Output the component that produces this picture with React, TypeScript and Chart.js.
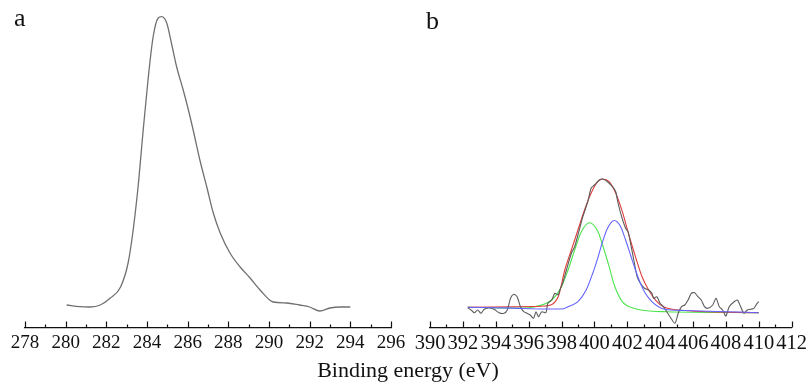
import React, { useEffect, useRef } from "react";
import { Chart, registerables } from "chart.js";

Chart.register(...registerables);

// ---- Panel a: C 1s spectrum ----
const c1sEnergy = [280.05, 280.7, 281.2, 281.7, 282.2, 282.7, 283.07, 283.3, 283.56, 283.8, 284.05, 284.3, 284.55, 284.72, 284.97, 285.2, 285.46, 285.78, 286.0, 286.27, 286.6, 286.94, 287.26, 287.6, 288.08, 288.58, 289.07, 289.56, 290.2, 290.87, 291.5, 292.0, 292.5, 293.0, 293.5, 294.0];
const c1sIntensity = [22.5, 20.8, 20.5, 22.5, 29.5, 40.5, 64.5, 94.5, 140.5, 194.5, 247.5, 290.5, 309.5, 310.8, 304.5, 284.5, 260.5, 237.5, 220.5, 197.5, 167.5, 140.5, 114.5, 94.5, 74.5, 60.5, 49.5, 37.5, 25.5, 24.5, 22.5, 20.5, 16.5, 19.5, 20.5, 20.5];

// ---- Panel b: N 1s spectrum (raw) ----
const n1sEnergy = [392.3, 392.5, 392.7, 392.9, 393.1, 393.3, 393.6, 393.9, 394.2, 394.5, 394.7, 394.9, 395.1, 395.3, 395.5, 395.7, 395.9, 396.1, 396.3, 396.45, 396.6, 396.8, 397.05, 397.17, 397.4, 397.6, 397.8, 397.9, 398.1, 398.3, 398.6, 398.8, 399.0, 399.3, 399.6, 399.8, 400.0, 400.3, 400.5, 400.8, 401.1, 401.3, 401.4, 401.6, 401.9, 402.05, 402.2, 402.4, 402.6, 402.8, 403.05, 403.3, 403.5, 403.6, 403.8, 404.0, 404.2, 404.6, 404.9, 405.1, 405.3, 405.5, 405.7, 405.9, 406.1, 406.3, 406.5, 406.7, 406.9, 407.2, 407.4, 407.6, 407.8, 408.0, 408.2, 408.5, 408.7, 408.9, 409.1, 409.3, 409.5, 409.7, 409.9, 410.0];
const n1sIntensity = [19.8, 17.5, 14.8, 17.5, 14.2, 18.2, 19.8, 18.2, 14.8, 14.2, 17.5, 29.2, 33.2, 30.8, 20.8, 15.8, 14.2, 12.5, 9.2, 15.8, 10.8, 15.8, 14.8, 24.2, 27.5, 34.2, 32.5, 37.5, 46, 57.5, 74.2, 80.8, 92.5, 110.8, 125.8, 139.2, 142.5, 147.5, 148.5, 145.8, 140.8, 135.8, 127.5, 114.2, 99.2, 95.8, 84.2, 67.5, 50.8, 44.2, 39.2, 37.5, 34.2, 29.2, 30.8, 24.2, 20.8, 10.8, 4.2, 14.2, 20.8, 22.5, 27.5, 34.2, 34.8, 30.8, 27.5, 20.8, 19.2, 22.5, 29.2, 20.8, 17.5, 11.5, 20.8, 25.8, 27.5, 20.8, 14.2, 17.5, 18.2, 19.2, 24.2, 25.8];

// ---- Panel b: fitted components ----
const fitBlueEnergy = [392.3, 395.0, 397.0, 398.0, 398.4, 399.0, 399.5, 399.9, 400.2, 400.5, 400.8, 401.2, 401.6, 401.9, 402.2, 402.5, 402.8, 403.1, 403.5, 403.9, 404.3, 405.5, 407.5, 410.0];
const fitBlueIntensity = [20.2, 19.4, 18.5, 18.5, 20.8, 25.8, 37.5, 54.2, 69.2, 85.8, 99.2, 107, 100.8, 87.5, 72.5, 57.5, 44.2, 34.2, 25.8, 20.8, 18.2, 17, 16, 14.8];

const fitGreenEnergy = [392.3, 395.5, 396.4, 397.4, 398.0, 398.4, 398.8, 399.2, 399.7, 400.2, 400.5, 400.9, 401.2, 401.7, 402.4, 403.4, 404.4, 410.0];
const fitGreenIntensity = [20.2, 19.5, 20.8, 27.5, 40.8, 57.5, 77.5, 95.5, 104.8, 96.5, 82.5, 60.8, 43, 25.8, 19.2, 16.5, 15.8, 14.8];

const fitRedEnergy = [392.3, 396.4, 397.0, 397.8, 398.2, 398.6, 399.0, 399.4, 399.8, 400.2, 400.5, 400.9, 401.3, 401.7, 402.1, 402.5, 402.9, 403.3, 403.8, 404.2, 405.5, 410.0];
const fitRedIntensity = [20.2, 21, 21.5, 30.8, 57.5, 77.5, 97.5, 117.5, 134.2, 145.8, 148.5, 145.8, 134.2, 115.8, 92.5, 70.8, 50.8, 37.5, 25.8, 20.8, 17, 14.8];

const panelA = { min: 278, max: 296, label: "a" };
const panelB = { min: 390, max: 412, label: "b" };
const axisTitle = "Binding energy (eV)";

const SERIF = "'Liberation Serif', 'Times New Roman', serif";

const pts = (xs: number[], ys: number[]) => xs.map((x, i) => ({ x, y: ys[i] }));

const tickMarks = {
  id: "tickMarks",
  afterDraw(chart: any) {
    const xs = chart.scales.x;
    const ctx = chart.ctx;
    const bottom = chart.chartArea.bottom;
    ctx.save();
    ctx.strokeStyle = "#111";
    ctx.lineWidth = 1.2;
    for (let v = xs.min; v <= xs.max + 1e-6; v += 1) {
      const px = Math.round(xs.getPixelForValue(v)) + 0.5;
      const len = Math.round(v) % 2 === 0 ? 6 : 3;
      ctx.beginPath();
      ctx.moveTo(px, bottom);
      ctx.lineTo(px, bottom - len);
      ctx.stroke();
    }
    ctx.restore();
  },
};

function makeOptions(range: { min: number; max: number }, padL: number, padR: number, fontSize: number): any {
  const lh = 1.2 * fontSize;
  return {
    responsive: false,
    animation: false,
    events: [],
    layout: { padding: { left: padL, right: padR, top: 10, bottom: 384 - 327.5 - lh - 8 } },
    plugins: { legend: { display: false }, tooltip: { enabled: false }, title: { display: false } },
    elements: { point: { radius: 0 } },
    scales: {
      x: {
        type: "linear",
        min: range.min,
        max: range.max,
        grid: { display: true, drawOnChartArea: false, drawTicks: false },
        border: { display: true, color: "#111", width: 1.2 },
        ticks: {
          stepSize: 2,
          autoSkip: false,
          maxRotation: 0,
          padding: 4,
          color: "#111",
          font: { family: SERIF, size: fontSize },
        },
      },
      y: { display: false, min: 0, max: 317.5 },
    },
  };
}

export default function App() {
  const refA = useRef<HTMLCanvasElement | null>(null);
  const refB = useRef<HTMLCanvasElement | null>(null);

  useEffect(() => {
    document.body.style.margin = "0";
    const a = new Chart(refA.current as HTMLCanvasElement, {
      type: "line",
      data: {
        datasets: [
          {
            data: pts(c1sEnergy, c1sIntensity),
            borderColor: "#707070",
            borderWidth: 1.3,
            cubicInterpolationMode: "monotone",
            fill: false,
          },
        ],
      },
      options: makeOptions(panelA, 25, 19, 19),
      plugins: [tickMarks],
    } as any);
    const b = new Chart(refB.current as HTMLCanvasElement, {
      type: "line",
      data: {
        datasets: [
          {
            data: pts(fitBlueEnergy, fitBlueIntensity),
            borderColor: "#6464ff",
            borderWidth: 1.1,
            cubicInterpolationMode: "monotone",
          },
          {
            data: pts(n1sEnergy, n1sIntensity),
            borderColor: "#5c5c5c",
            borderWidth: 1.1,
            tension: 0.25,
          },
          {
            data: pts(fitRedEnergy, fitRedIntensity),
            borderColor: "#e03c3c",
            borderWidth: 1.1,
            cubicInterpolationMode: "monotone",
          },
          {
            data: pts(fitGreenEnergy, fitGreenIntensity),
            borderColor: "#4ee44e",
            borderWidth: 1.1,
            cubicInterpolationMode: "monotone",
          },
        ],
      },
      options: makeOptions(panelB, 20, 15, 20.5),
      plugins: [tickMarks],
    } as any);
    return () => {
      a.destroy();
      b.destroy();
    };
  }, []);

  const labelStyle: React.CSSProperties = {
    position: "absolute",
    fontFamily: SERIF,
    fontSize: 26,
    lineHeight: "26px",
    color: "#111",
    margin: 0,
  };

  return (
    <div style={{ position: "relative", width: 811, height: 384, background: "#fff", overflow: "hidden" }}>
      <canvas ref={refA} width={410} height={384} style={{ position: "absolute", left: 0, top: 0 }} />
      <canvas ref={refB} width={401} height={384} style={{ position: "absolute", left: 410, top: 0 }} />
      <div style={{ ...labelStyle, left: 14, top: 5 }}>{panelA.label}</div>
      <div style={{ ...labelStyle, left: 426, top: 8 }}>{panelB.label}</div>
      <div
        style={{
          position: "absolute",
          left: 258,
          width: 300,
          top: 359,
          textAlign: "center",
          fontFamily: SERIF,
          fontSize: 22,
          lineHeight: "22px",
          color: "#111",
        }}
      >
        {axisTitle}
      </div>
    </div>
  );
}
